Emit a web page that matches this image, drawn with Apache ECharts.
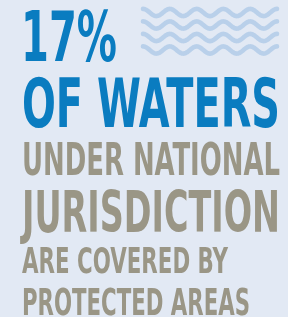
<!DOCTYPE html>
<html>
<head>
<meta charset="UTF-8">
<script src="https://cdn.jsdelivr.net/npm/echarts@6/dist/echarts.min.js"></script>
<style>
  * { margin: 0; padding: 0; }
  html, body { width: 288px; height: 317px; background: #e2e9f4; overflow: hidden; }
  #chart { width: 288px; height: 317px; }
</style>
</head>
<body>
<div id="chart"></div>
<script>
  // 文字内容
  const share = 17
  const lines = [`${share}%`, 'OF WATERS', 'UNDER NATIONAL', 'JURISDICTION', 'ARE COVERED BY', 'PROTECTED AREAS']
  const lineColors = ['#0a7cc0', '#0a7cc0', '#9a9686', '#9a9686', '#9a9686', '#9a9686']

  // 版式：左边、底线、字高、宽度
  const lineLeft = [21, 22, 22, 22, 22, 22]
  const lineBottom = [61, 127, 175, 232, 273, 315]
  const lineCap = [51, 50, 33, 42, 26, 27]
  const lineWidth = [96, 258, 258, 258, 206, 228]

  const fontFamily = '"Liberation Sans Narrow", "DejaVu Sans Condensed", "Liberation Sans", sans-serif'
  const ctx = document.createElement('canvas').getContext('2d')

  const measure = (text, size) => {
    ctx.font = `bold ${size}px ${fontFamily}`
    ctx.textBaseline = 'middle'
    const h = ctx.measureText('H')
    return {
      width: ctx.measureText(text).width,
      asc: h.actualBoundingBoxAscent,
      desc: h.actualBoundingBoxDescent
    }
  }

  const textEls = lines.map((text, i) => {
    const base = measure(text, 100)
    const size = lineCap[i] / (base.asc + base.desc) * 100
    const m = measure(text, size)
    return {
      type: 'text',
      x: lineLeft[i],
      y: lineBottom[i] - m.desc,
      scaleX: lineWidth[i] / m.width,
      style: {
        x: 0,
        y: 0,
        text,
        fill: lineColors[i],
        font: `bold ${size}px ${fontFamily}`,
        textAlign: 'left',
        textVerticalAlign: 'middle'
      }
    }
  })

  // 波浪装饰
  const waveRows = [12.5, 25, 37.5, 50]
  const waveEls = waveRows.map(cy => {
    const pts = []
    for (let x = 143; x <= 277; x += 1) {
      pts.push([x, cy - 3.6 * Math.cos((x - 143) / 26.8 * Math.PI * 2)])
    }
    return {
      type: 'polyline',
      shape: { points: pts },
      style: { stroke: '#b9d0ea', lineWidth: 4.6, fill: null, lineCap: 'round', lineJoin: 'round' }
    }
  })

  const chart = echarts.init(document.getElementById('chart'))
  chart.setOption({
    backgroundColor: '#e2e9f4',
    graphic: [...waveEls, ...textEls]
  })
</script>
</body>
</html>
